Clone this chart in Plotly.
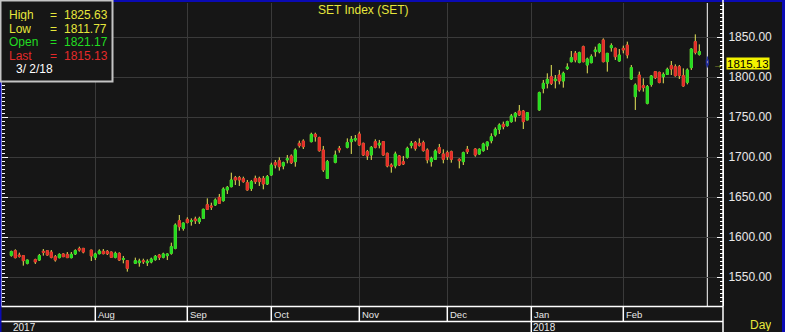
import numpy as np
import pandas as pd
import plotly.graph_objects as go

# ---------------- data ----------------
first_day = "2017-07-03"
last_day = "2018-03-02"
holidays = ["2017-07-10", "2017-07-28", "2017-08-14", "2017-10-13", "2017-10-23",
            "2017-10-26", "2017-12-05", "2017-12-11", "2018-01-01", "2018-01-02",
            "2018-03-01"]
dates = [d for d in pd.bdate_range(first_day, last_day).strftime("%Y-%m-%d") if d not in holidays]

opens = [
    1577.1, 1582.9, 1577.5, 1576.7, 1567.1, 1571.7, 1571.2, 1582.1, 1582.9, 1581.2, 1575.4, 1574.2, 1578.8, 1578.3, 1574.2, 1578.8, 1585.4, 1585.8, 1583.7,
    1574.6, 1579.2, 1582.1, 1582.1, 1581.2, 1574.6, 1579.6, 1572.1, 1570.4, 1567.1, 1567.9, 1570.4, 1567.9, 1568.8, 1571.7, 1577.5, 1574.6, 1576.7, 1579.6, 1585.8, 1620.4, 1610.8,
    1622.1, 1619.6, 1622.5, 1619.2, 1623.3, 1640.4, 1638.8, 1640.0, 1649.6, 1645.4, 1658.8, 1662.9, 1674.2, 1674.2, 1672.9, 1667.9, 1660.8, 1673.3, 1673.3, 1673.3, 1666.3,
    1677.5, 1692.9, 1695.4, 1688.8, 1696.3, 1701.3, 1694.2, 1717.1, 1720.0, 1719.2, 1728.3, 1724.2, 1708.8, 1673.3, 1693.3, 1710.8, 1712.1, 1719.2, 1721.3,
    1728.8, 1717.1, 1706.7, 1702.5, 1719.2, 1715.0, 1719.2, 1704.6, 1690.0, 1688.8, 1701.3, 1694.2, 1699.6, 1714.6, 1717.9, 1717.1, 1717.9, 1708.8, 1694.2, 1697.1, 1711.7, 1703.8,
    1705.4, 1706.7, 1697.1, 1694.2, 1709.6, 1710.0, 1703.8, 1707.9, 1713.8, 1720.4, 1727.5, 1734.6, 1740.8, 1739.2, 1744.2, 1750.4, 1757.5, 1757.5, 1746.3,
    1758.8, 1785.8, 1792.1, 1800.4, 1795.4, 1802.5, 1795.0, 1810.4, 1819.2, 1829.6, 1818.3, 1837.9, 1815.0, 1817.9, 1831.7, 1831.7, 1846.3, 1819.2, 1836.7, 1835.8, 1820.0,
    1835.8, 1840.0, 1797.5, 1775.4, 1802.5, 1789.2, 1767.1, 1790.8, 1806.7, 1805.8, 1800.4, 1803.3, 1814.2, 1812.9, 1812.9, 1801.7, 1793.3, 1811.7, 1844.2, 1828.3,
    1821.17,
]
highs = [
    1583.0, 1584.6, 1580.4, 1577.5, 1571.5, 1572.9, 1578.8, 1585.0, 1583.7, 1583.7, 1577.5, 1579.6, 1579.6, 1581.2, 1581.2, 1584.6, 1587.9, 1585.8, 1583.7,
    1580.4, 1584.6, 1585.0, 1583.7, 1581.7, 1581.7, 1580.8, 1576.3, 1570.4, 1574.2, 1572.9, 1572.9, 1572.1, 1574.2, 1577.5, 1578.8, 1580.4, 1579.6, 1592.9, 1617.1, 1627.5, 1617.9,
    1624.6, 1623.3, 1625.4, 1625.4, 1635.4, 1648.3, 1642.9, 1648.3, 1653.8, 1662.1, 1663.8, 1680.4, 1676.3, 1676.3, 1675.4, 1671.3, 1671.3, 1676.7, 1675.4, 1676.3, 1677.5,
    1692.9, 1696.3, 1699.6, 1694.2, 1702.5, 1703.3, 1710.8, 1720.4, 1722.1, 1730.4, 1730.4, 1725.4, 1713.8, 1696.3, 1708.0, 1713.8, 1723.3, 1726.3, 1727.5,
    1731.7, 1717.9, 1708.8, 1713.8, 1722.1, 1721.3, 1720.0, 1705.4, 1692.1, 1706.7, 1702.5, 1701.3, 1712.9, 1720.0, 1720.0, 1723.3, 1720.4, 1710.8, 1700.4, 1709.6, 1716.3, 1709.6,
    1708.0, 1708.0, 1698.3, 1706.7, 1713.8, 1710.8, 1710.8, 1717.9, 1719.2, 1729.6, 1737.1, 1742.1, 1744.2, 1745.4, 1753.8, 1756.3, 1765.0, 1758.8, 1755.4,
    1781.7, 1796.3, 1804.6, 1815.0, 1802.5, 1808.8, 1806.7, 1817.1, 1832.5, 1832.5, 1831.7, 1839.2, 1824.2, 1828.3, 1837.9, 1842.1, 1848.3, 1829.6, 1842.1, 1836.7, 1835.0,
    1839.2, 1844.2, 1815.0, 1792.1, 1806.7, 1798.3, 1790.0, 1802.5, 1807.5, 1806.7, 1805.8, 1811.7, 1820.0, 1815.8, 1815.0, 1810.8, 1810.8, 1835.8, 1853.3, 1840.8,
    1825.63,
]
lows = [
    1575.4, 1573.3, 1574.2, 1564.2, 1565.8, 1566.3, 1570.0, 1576.7, 1576.7, 1573.3, 1569.2, 1573.3, 1575.0, 1573.8, 1573.3, 1577.5, 1581.7, 1579.6, 1570.0,
    1571.2, 1578.3, 1578.3, 1577.5, 1574.2, 1573.3, 1570.0, 1567.1, 1556.7, 1566.3, 1562.9, 1566.3, 1563.8, 1567.1, 1570.4, 1571.2, 1573.3, 1571.2, 1577.9, 1584.6, 1607.9, 1607.9,
    1617.1, 1614.2, 1616.3, 1616.3, 1622.5, 1633.8, 1633.8, 1638.8, 1641.3, 1644.2, 1653.8, 1662.1, 1665.0, 1663.8, 1667.9, 1658.0, 1657.5, 1666.3, 1663.8, 1659.6, 1665.0,
    1676.7, 1685.8, 1683.0, 1684.6, 1692.1, 1691.3, 1687.9, 1711.7, 1710.0, 1718.3, 1719.2, 1706.7, 1681.3, 1672.5, 1692.1, 1705.4, 1710.8, 1703.8, 1719.2,
    1713.8, 1701.3, 1696.3, 1696.3, 1710.8, 1710.8, 1701.7, 1687.1, 1680.4, 1685.8, 1688.8, 1690.0, 1698.0, 1710.8, 1708.0, 1713.0, 1706.7, 1692.1, 1688.0, 1696.3, 1703.8, 1692.1,
    1696.3, 1692.9, 1685.8, 1690.0, 1703.8, 1700.4, 1702.9, 1706.7, 1708.8, 1717.1, 1725.4, 1728.8, 1734.6, 1737.9, 1742.9, 1744.2, 1751.3, 1735.0, 1746.3,
    1757.9, 1779.6, 1785.8, 1790.0, 1785.8, 1790.8, 1786.7, 1808.8, 1818.3, 1818.3, 1817.1, 1818.3, 1804.6, 1817.1, 1825.4, 1829.6, 1818.3, 1806.7, 1831.7, 1821.3, 1819.2,
    1829.6, 1823.3, 1796.3, 1758.8, 1781.7, 1781.7, 1765.8, 1787.9, 1797.5, 1792.1, 1792.1, 1802.5, 1802.5, 1800.4, 1797.5, 1787.9, 1790.8, 1808.8, 1828.3, 1826.7,
    1811.77,
]
closes = [
    1581.7, 1574.2, 1575.8, 1570.4, 1571.2, 1568.8, 1576.7, 1580.8, 1577.5, 1574.6, 1571.2, 1578.3, 1575.4, 1574.2, 1578.3, 1582.9, 1583.7, 1581.2, 1576.3,
    1578.8, 1582.5, 1579.2, 1579.2, 1574.6, 1579.6, 1571.2, 1572.9, 1560.8, 1570.4, 1570.0, 1569.2, 1569.6, 1572.5, 1575.8, 1574.6, 1578.8, 1578.8, 1587.9, 1615.0, 1612.9, 1617.5,
    1618.0, 1620.4, 1620.4, 1622.9, 1634.6, 1634.6, 1637.5, 1646.3, 1642.1, 1660.0, 1662.1, 1671.3, 1671.3, 1671.3, 1669.2, 1658.8, 1669.2, 1669.2, 1669.2, 1666.3, 1675.4,
    1690.0, 1690.0, 1687.9, 1692.9, 1697.9, 1692.9, 1708.8, 1714.2, 1712.9, 1728.3, 1725.4, 1707.9, 1683.8, 1694.2, 1702.5, 1708.8, 1718.0, 1722.1, 1722.9,
    1715.0, 1702.5, 1701.3, 1712.1, 1712.1, 1717.1, 1702.5, 1688.8, 1687.9, 1703.8, 1690.0, 1691.3, 1710.8, 1717.1, 1710.8, 1714.6, 1708.0, 1696.3, 1698.3, 1707.5, 1705.4, 1697.1,
    1700.4, 1697.1, 1695.4, 1705.4, 1706.7, 1702.5, 1709.6, 1716.3, 1718.8, 1725.4, 1734.6, 1740.0, 1737.9, 1744.2, 1751.3, 1754.6, 1752.5, 1744.2, 1755.4,
    1780.4, 1792.1, 1797.1, 1792.1, 1797.5, 1795.0, 1804.6, 1812.5, 1824.2, 1821.3, 1830.4, 1819.2, 1822.5, 1825.4, 1833.8, 1840.8, 1819.2, 1829.6, 1839.2, 1825.4, 1827.5,
    1833.8, 1827.5, 1811.7, 1790.0, 1783.8, 1786.7, 1787.9, 1801.3, 1799.2, 1793.3, 1803.3, 1809.6, 1810.0, 1801.7, 1801.7, 1788.8, 1808.8, 1835.0, 1830.8, 1831.7,
    1815.13,
]

month_starts = ["2017-08-01", "2017-09-01", "2017-10-02", "2017-11-01", "2017-12-01", "2018-01-01", "2018-02-01"]
month_labels = ["Aug", "Sep", "Oct", "Nov", "Dec", "Jan", "Feb"]
year_starts = ["2017-07-03", "2018-01-01"]
year_labels = ["2017", "2018"]
y_ticks = [1550, 1600, 1650, 1700, 1750, 1800, 1850]
title_text = "SET Index (SET)"

assert len(dates) == len(opens) == len(highs) == len(lows) == len(closes)

# ---------------- positions ----------------
xi = np.busday_count(first_day, dates)          # trading-slot index (weekdays)
mi = np.busday_count(first_day, month_starts)
yi = np.busday_count(first_day, year_starts)

o = np.array(opens); h = np.array(highs); l = np.array(lows); c = np.array(closes)
body_hi = np.maximum(o, c); body_lo = np.minimum(o, c)

W, H = 785, 332
L, R, T, B = 2, 723, 3, 306
def fx(px): return (px - L) / (R - L)
def fy(py): return (B - py) / (B - T)

FONT = "Liberation Sans, Arial, sans-serif"
BG = "#161616"
GRID = "#3a3a3a"
YEL = "#e6e63c"
GRN = "#22dc22"
RED = "#e42a2a"
WICK = "#e8e85a"
TXT = "#e8e8e8"

fig = go.Figure()
n = len(dates) - 1  # last bar is the current (highlighted) bar

# wicks
fig.add_trace(go.Candlestick(
    x=xi[:n], open=o[:n], high=h[:n], low=l[:n], close=c[:n],
    increasing=dict(line=dict(color=WICK, width=1), fillcolor=WICK),
    decreasing=dict(line=dict(color=WICK, width=1), fillcolor=WICK),
    whiskerwidth=0, hoverinfo="skip", showlegend=False))
# bodies
fig.add_trace(go.Candlestick(
    x=xi[:n], open=o[:n], high=body_hi[:n], low=body_lo[:n], close=c[:n],
    increasing=dict(line=dict(color=GRN, width=1), fillcolor=GRN),
    decreasing=dict(line=dict(color=RED, width=1), fillcolor=RED),
    whiskerwidth=0, showlegend=False))
# current bar
fig.add_trace(go.Candlestick(
    x=xi[n:], open=o[n:], high=h[n:], low=l[n:], close=c[n:],
    increasing=dict(line=dict(color="#1c2a9a", width=1.2), fillcolor="#c0a4ac"),
    decreasing=dict(line=dict(color="#1c2a9a", width=1.2), fillcolor="#c0a4ac"),
    whiskerwidth=0, showlegend=False))

shapes = []
# blue frame strips
shapes.append(dict(type="rect", xref="paper", yref="paper", x0=fx(0), x1=fx(W), y0=fy(0), y1=fy(2),
                   fillcolor="#0a0ab4", line=dict(width=0), layer="above"))
shapes.append(dict(type="rect", xref="paper", yref="paper", x0=fx(0), x1=fx(1.5), y0=fy(0), y1=fy(H),
                   fillcolor="#0a0ab4", line=dict(width=0), layer="above"))
shapes.append(dict(type="rect", xref="paper", yref="paper", x0=fx(782), x1=fx(W), y0=fy(0), y1=fy(H),
                   fillcolor="#0a0ab4", line=dict(width=0), layer="above"))
# bottom band lines
for yy in (306.5, 321.5):
    shapes.append(dict(type="line", xref="paper", yref="paper", x0=fx(1.5), x1=fx(R), y0=fy(yy), y1=fy(yy),
                       line=dict(color="white", width=1.5), layer="above"))
for m in mi:
    shapes.append(dict(type="line", xref="x", yref="paper", x0=m, x1=m, y0=fy(306), y1=fy(321),
                       line=dict(color="white", width=1.5), layer="above"))
shapes.append(dict(type="line", xref="x", yref="paper", x0=yi[1], x1=yi[1], y0=fy(321), y1=fy(H),
                   line=dict(color="white", width=1.5), layer="above"))
# right axis line full height
shapes.append(dict(type="line", xref="paper", yref="paper", x0=fx(R), x1=fx(R), y0=fy(0), y1=fy(H),
                   line=dict(color="white", width=1.5), layer="above"))
# cursor line at current bar
shapes.append(dict(type="line", xref="x", yref="paper", x0=xi[n], x1=xi[n], y0=0, y1=1,
                   line=dict(color="white", width=1), layer="below"))
# info box
shapes.append(dict(type="rect", xref="paper", yref="paper", x0=fx(0.5), x1=fx(112.5), y0=fy(0.5), y1=fy(81.5),
                   fillcolor=BG, line=dict(color="#c4c4c4", width=2), layer="above"))

ann = []
def txt(x, y, s, color, size=12, xanchor="left", yref="paper", **kw):
    ann.append(dict(x=fx(x), y=(fy(y) if yref == "paper" else y), xref="paper", yref=yref, text=s,
                    showarrow=False, xanchor=xanchor, yanchor="middle",
                    font=dict(family=FONT, size=size, color=color), **kw))

txt(363, 10, title_text, YEL, 12, xanchor="center")
rows = [("High", highs[-1], YEL, 15.0), ("Low", lows[-1], YEL, 28.6),
        ("Open", opens[-1], GRN, 42.2), ("Last", closes[-1], RED, 55.8)]
for name, val, col, yy in rows:
    txt(7, yy, name, col, height=12, valign="middle")
    txt(48, yy, "=", col, height=12, valign="middle")
    txt(62, yy, f"{val:.2f}", col, height=12, valign="middle")
d = pd.Timestamp(dates[-1])
txt(14, 69.4, f"{d.month}/ {d.day}/{d.strftime('%y')}", "white", height=12, valign="middle")

for m, lab in zip(mi, month_labels):
    ann.append(dict(x=m, y=fy(314.5), xref="x", yref="paper", text=lab, showarrow=False,
                    xanchor="left", yanchor="middle", xshift=1,
                    font=dict(family=FONT, size=9.5, color=TXT)))
for yv, lab in zip(yi, year_labels):
    ann.append(dict(x=yv, y=fy(327), xref="x", yref="paper", text=lab, showarrow=False,
                    xanchor="left", yanchor="middle", xshift=0, height=10, valign="middle",
                    font=dict(family=FONT, size=10, color=TXT)))
txt(748, 325, "Day", YEL, 12, height=12, valign="middle")
# current price tag and arrow
txt(725.5, closes[-1], f"{closes[-1]:.2f}", "black", 11.5, yref="y", bgcolor="#f2f200", borderpad=0,
    height=11, valign="middle", yshift=1)
txt(711, closes[-1], "→", YEL, 10, yref="y")

fig.update_layout(
    width=W, height=H,
    margin=dict(l=L, r=W - R, t=T, b=H - B, pad=0),
    paper_bgcolor=BG, plot_bgcolor=BG,
    showlegend=False,
    shapes=shapes, annotations=ann,
    xaxis=dict(range=[-(11.3 - L) / 4, (R - 11.3) / 4], rangeslider=dict(visible=False),
               tickvals=list(mi), showticklabels=False, ticks="", showgrid=True, gridcolor=GRID,
               gridwidth=1, zeroline=False, showline=False, fixedrange=True),
    yaxis=dict(side="right", range=[1850 - (B - 37) * 1.25, 1850 + (37 - T) * 1.25],
               tickvals=y_ticks, tickformat=".2f", showgrid=True, gridcolor=GRID, gridwidth=1,
               zeroline=False, showline=True, linecolor="white", linewidth=1,
               ticks="inside", ticklen=6, tickcolor="white", tickwidth=1, mirror="ticks",
               minor=dict(dtick=5, tick0=1550, ticks="inside", ticklen=3, tickcolor="white", showgrid=False),
               tickfont=dict(family=FONT, size=12, color=TXT), ticklabelstandoff=2),
)

fig.write_html("out.html")
